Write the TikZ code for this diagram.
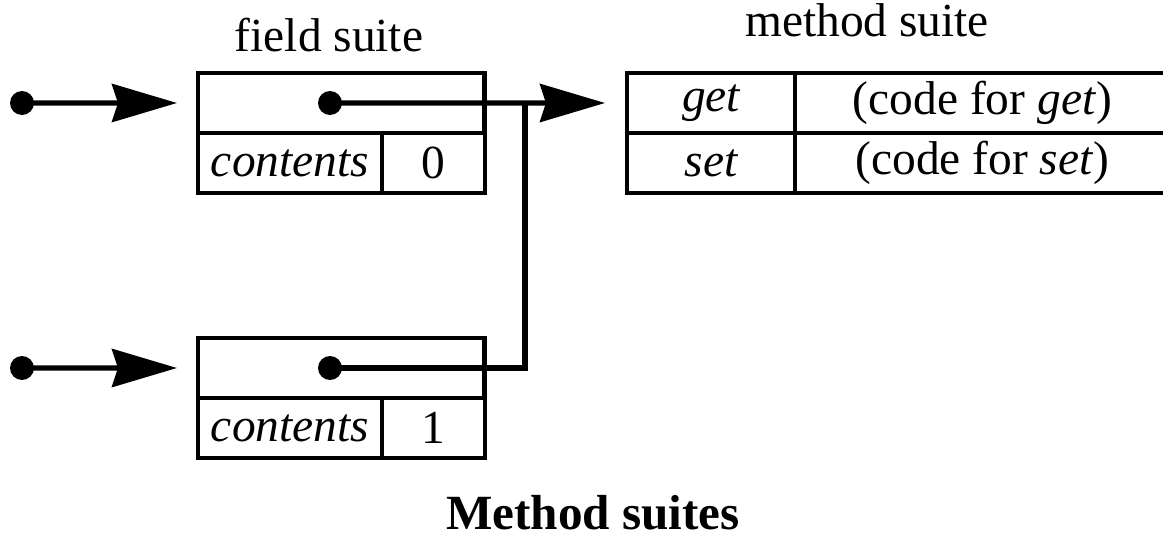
\documentclass[tikz,border=0pt]{standalone}
\usepackage{fontspec}
\setmainfont{Liberation Serif}
\usetikzlibrary{arrows.meta}

\begin{document}
\begin{tikzpicture}[
    x=0.02cm, y=-0.02cm,
    >={Stealth[length=1.3cm, width=0.76cm, inset=0.12cm]},
    font=\fontsize{27}{31}\selectfont,
    arr/.style={->, line width=3pt, shorten >=0.42cm},
    ptr/.style={-, line width=3pt},
    cell/.style={draw, line width=2.8pt, anchor=north west, inner sep=0pt, outer sep=0pt, minimum height=1.2cm},
    hcell/.style={cell, minimum width=5.74cm},
    kcell/.style={cell, minimum width=3.68cm},
    vcell/.style={cell, minimum width=2.06cm},
    mkey/.style={cell, minimum width=3.36cm},
    mcode/.style={cell, minimum width=7.5cm},
    dot/.style={circle, fill, inner sep=0pt, minimum size=0.48cm},
    title/.style={anchor=base, inner sep=0pt}
]
\useasboundingbox (0,0) rectangle (1163,537);

% =========================================================
% 1) FIELD SUITES (two objects)
% =========================================================
\node[title] (fieldlbl) at (329,52) {field suite};

\node[hcell] (f0top) at (198,73) {};
\node[kcell] (f0key) at (198,133) {\itshape contents};
\node[vcell] (f0val) at (382,133) {0};

\node[hcell] (f1top) at (198,338) {};
\node[kcell] (f1key) at (198,398) {\itshape contents};
\node[vcell] (f1val) at (382,398) {1};

% =========================================================
% 2) METHOD SUITE
% =========================================================
\node[title] (methlbl) at (867,37) {method suite};

\node[mkey] (getk) at (627,73) {\itshape get};
\node[mcode] (getc) at (795,73) {(code for \textit{get})};
\node[mkey] (setk) at (627,133) {\itshape set};
\node[mcode] (setc) at (795,133) {(code for \textit{set})};

% =========================================================
% 3) POINTERS
% =========================================================
\node[dot] (in0) at (22,103) {};
\node[dot] (in1) at (22,368) {};
\node[dot] (f0dot) at (330,103) {};
\node[dot] (f1dot) at (330,368) {};

\draw[arr] (in0.center) -- (f0top.west);
\draw[arr] (in1.center) -- (f1top.west);

% both objects share the same method suite
\draw[arr, shorten >=0.44cm] (f0dot.center) -- (getk.west);
\coordinate (merge) at (525,103);
\draw[ptr] (f1dot.center) -| (merge);

\node[title, font=\fontsize{28}{32}\selectfont\bfseries] (caption) at (593,529) {Method suites};

\end{tikzpicture}
\end{document}
